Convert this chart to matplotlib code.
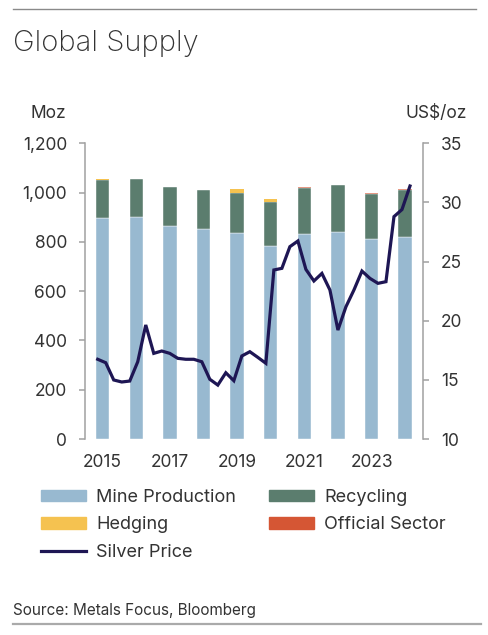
import matplotlib
matplotlib.use("Agg")
import matplotlib.pyplot as plt
import matplotlib.patches as mpatches
import matplotlib.lines as mlines
import numpy as np

plt.rcParams['font.family'] = ['Inter', 'DejaVu Sans']

years = [2015, 2016, 2017, 2018, 2019, 2020, 2021, 2022, 2023, 2024]
year_ticks = ['2015', '2017', '2019', '2021', '2023']
mine = [897, 901, 864, 851, 836, 783, 831, 839, 813, 820]
recycling = [155, 153, 159, 159, 162, 179, 189, 192, 183, 192]
hedging = [2, 0, 0, 0, 16, 12, 0, 0, 0, 0]
official = [0, 1, 1, 1, 0, 0, 1, 1, 1, 1]

# quarterly silver price, 2015 Q1 .. 2024 Q4
price = [16.74, 16.45, 14.99, 14.82,
         14.90, 16.53, 19.64, 17.24,
         17.44, 17.24, 16.82, 16.74,
         16.74, 16.53, 15.05, 14.56,
         15.60, 14.93, 17.02, 17.38,
         16.90, 16.40, 24.29, 24.43,
         26.26, 26.74, 24.34, 23.36,
         24.00, 22.60, 19.21, 21.18,
         22.60, 24.20, 23.58, 23.16,
         23.30, 28.80, 29.40, 31.39]

c_mine = '#98b9d0'
c_rec = '#5b7d6e'
c_hedge = '#f5c250'
c_off = '#d55634'
c_price = '#1e1654'
c_text = '#333333'
c_axis = '#a0a0a0'

fig = plt.figure(figsize=(4.88, 6.35), dpi=100)
ax = fig.add_axes([85/488, 1-439/635, (422.7-85)/488, (439-143.3)/635])

x = np.arange(len(years))
w = 0.4
ekw = dict(edgecolor='white', linewidth=0.3)
ax.bar(x, mine, w, color=c_mine, **ekw)
b1 = np.array(mine)
ax.bar(x, recycling, w, bottom=b1, color=c_rec, **ekw)
b2 = b1 + np.array(recycling)
ax.bar(x, hedging, w, bottom=b2, color=c_hedge, linewidth=0)
b3 = b2 + np.array(hedging)
ax.bar(x, official, w, bottom=b3, color=c_off, linewidth=0, alpha=0.6)

ax.set_xlim(-0.525, 9.52)
ax.set_ylim(0, 1200)
ax.set_yticks(range(0, 1201, 200))
ax.set_yticklabels([f'{v:,}' for v in range(0, 1201, 200)])
ax.set_xticks(x[::2])
ax.set_xticklabels(year_ticks)

ax2 = ax.twinx()
qx = np.linspace(-0.147, 9.142, len(price))
ax2.plot(qx, price, color=c_price, lw=2.3, solid_joinstyle='miter')
ax2.set_ylim(10, 35)
ax2.set_yticks(range(10, 36, 5))

for a in (ax, ax2):
    for s in ('top', 'bottom'):
        a.spines[s].set_visible(False)
    a.spines['left'].set_visible(a is ax)
    a.spines['right'].set_visible(a is ax2)
    for s in ('left', 'right'):
        a.spines[s].set_color(c_axis)
        a.spines[s].set_linewidth(1.1)
    a.tick_params(axis='y', colors=c_axis, labelcolor=c_text, length=4,
                  width=1.1, labelsize=12.5, pad=9)
ax.tick_params(axis='x', length=0, labelsize=12.5, labelcolor=c_text, pad=11)

fig.text(13/488, 1-51/635, 'Global Supply', fontsize=21, color=c_text,
         fontweight='light', va='baseline', ha='left')
fig.text(48.7/488, 1-113/635, 'Moz', fontsize=12.5, color=c_text, ha='center', va='center')
fig.text(436/488, 1-113/635, 'US$/oz', fontsize=12.5, color=c_text, ha='center', va='center')
fig.text(13/488, 1-610/635, 'Source: Metals Focus, Bloomberg', fontsize=11,
         color=c_text, ha='left', va='center')

fig.add_artist(mlines.Line2D([13/488, 476/488], [1-9/635, 1-9/635],
                             color='#8a8a8a', lw=1.0, transform=fig.transFigure))
fig.add_artist(mlines.Line2D([13/488, 481/488], [1-624/635, 1-624/635],
                             color='#aaaaaa', lw=1.6, transform=fig.transFigure))

handles = [mpatches.Patch(color=c_mine, label='Mine Production'),
           mpatches.Patch(color=c_hedge, label='Hedging'),
           mlines.Line2D([], [], color=c_price, lw=2.3, label='Silver Price'),
           mpatches.Patch(color=c_rec, label='Recycling'),
           mpatches.Patch(color=c_off, label='Official Sector')]
leg = fig.legend(handles=handles, ncol=2, loc='upper left',
                 bbox_to_anchor=(41/488, 1-489/635), frameon=False,
                 fontsize=13, handlelength=2.5, handleheight=0.6,
                 handletextpad=0.55, columnspacing=1.85, labelspacing=0.58,
                 borderpad=0, borderaxespad=0)
for t in leg.get_texts():
    t.set_color(c_text)

fig.savefig('out.png', dpi=100)
